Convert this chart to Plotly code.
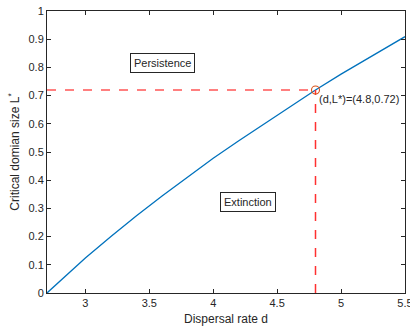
import plotly.graph_objects as go

# Data
d_vals = [2.7, 2.8, 2.9, 3.0, 3.2, 3.4, 3.6, 3.8, 4.0, 4.2, 4.4, 4.6, 4.8, 5.0, 5.2, 5.5]
L_vals = [0.0, 0.042, 0.083, 0.124, 0.200, 0.274, 0.344, 0.412, 0.478, 0.540, 0.601, 0.661, 0.720, 0.776, 0.830, 0.909]
point_d = 4.8
point_L = 0.72
x_ticks = [3, 3.5, 4, 4.5, 5, 5.5]
y_ticks = [0, 0.1, 0.2, 0.3, 0.4, 0.5, 0.6, 0.7, 0.8, 0.9, 1]
y_tick_text = ["0", "0.1", "0.2", "0.3", "0.4", "0.5", "0.6", "0.7", "0.8", "0.9", "1"]

FONT = "Liberation Sans, Arial, Helvetica, sans-serif"
axis_col = "#262626"

fig = go.Figure()
fig.add_trace(go.Scatter(x=d_vals, y=L_vals, mode="lines", line=dict(color="#0072BD", width=1.3),
                         showlegend=False))
fig.add_trace(go.Scatter(x=[2.7, point_d], y=[point_L, point_L], mode="lines",
                         line=dict(color="#FF0000", width=1.1, dash="dash"), showlegend=False))
fig.add_trace(go.Scatter(x=[point_d, point_d], y=[0, point_L], mode="lines",
                         line=dict(color="#FF3030", width=1.5, dash="dash"), showlegend=False))
fig.add_trace(go.Scatter(x=[point_d], y=[point_L], mode="markers",
                         marker=dict(symbol="circle-open", size=8, color="#D95319", line=dict(width=1.1)),
                         showlegend=False))

fig.add_annotation(x=point_d, y=0.687, xref="x", yref="y", text="(d,L*)=(4.8,0.72)", showarrow=False,
                   xanchor="left", yanchor="middle", xshift=1, font=dict(family=FONT, size=11, color="#262626"))
fig.add_annotation(x=3.606, y=0.816, text="Persistence", showarrow=False, xanchor="center", yanchor="middle",
                   bordercolor="#262626", borderwidth=1, borderpad=3, bgcolor="white",
                   font=dict(family=FONT, size=11, color="#262626"))
fig.add_annotation(x=4.269, y=0.324, text="Extinction", showarrow=False, xanchor="center", yanchor="middle",
                   bordercolor="#262626", borderwidth=1, borderpad=3, bgcolor="white",
                   font=dict(family=FONT, size=11, color="#262626"))

fig.update_layout(
    width=410, height=331,
    margin=dict(l=47, r=5, t=11, b=38, autoexpand=False),
    paper_bgcolor="white", plot_bgcolor="white",
    font=dict(family=FONT, size=11, color=axis_col),
    xaxis=dict(range=[2.7, 5.5], tickvals=x_ticks, ticktext=[str(v) for v in x_ticks],
               ticks="inside", ticklen=4, tickcolor=axis_col, showline=True, linecolor=axis_col,
               linewidth=1, mirror="allticks", showgrid=False, zeroline=False,
               ticklabeloverflow="allow", automargin=False,
               title=dict(text="Dispersal rate d", font=dict(size=12), standoff=6)),
    yaxis=dict(range=[0, 1], tickvals=y_ticks, ticktext=y_tick_text,
               ticks="inside", ticklen=4, tickcolor=axis_col, showline=True, linecolor=axis_col,
               linewidth=1, mirror="allticks", showgrid=False, zeroline=False, automargin=False,
               title=dict(text="Critical domian size L<sup>*</sup>", font=dict(size=12), standoff=6)),
)

fig.write_html("out.html")
